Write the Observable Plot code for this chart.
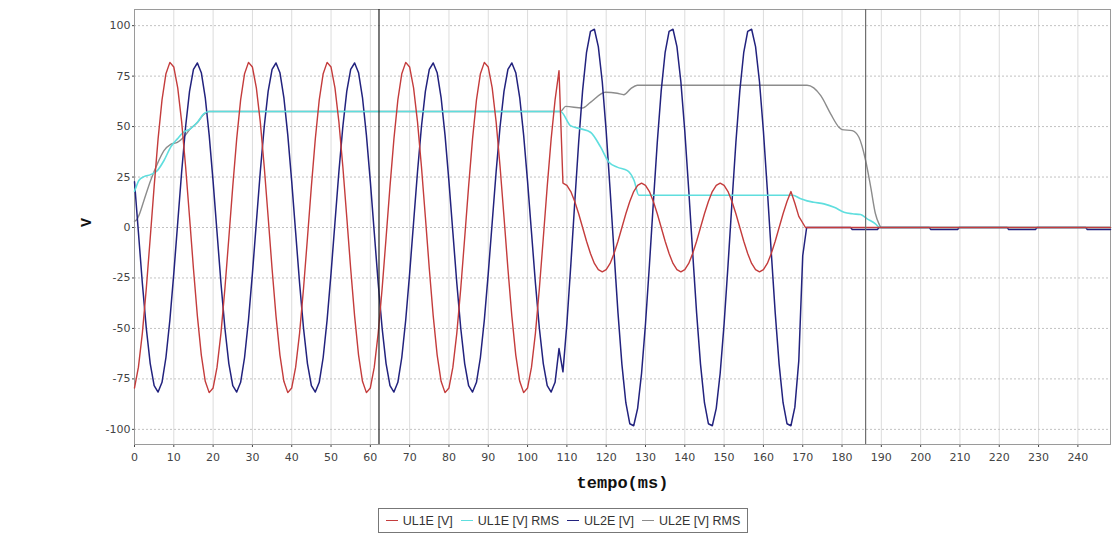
<!DOCTYPE html>
<html><head><meta charset="utf-8">
<script src="https://cdn.jsdelivr.net/npm/d3@7"></script>
<script src="https://cdn.jsdelivr.net/npm/@observablehq/plot@0.6"></script>
<style>
body{margin:0;background:#fff;width:1112px;height:536px;position:relative;overflow:hidden;font-family:"Liberation Sans",Arial,sans-serif}
#chart{position:absolute;left:0;top:0}
#legend{position:absolute;left:378px;top:508px;width:368px;height:23px;border:1px solid #777;display:flex;align-items:center;justify-content:center;gap:8px;font-size:12.5px;color:#333;white-space:nowrap;box-sizing:content-box}
.item{display:flex;align-items:center;gap:5px}
.sw{display:inline-block;width:12px;height:0;border-top:1.6px solid}
</style></head><body>
<div id="chart"></div><div id="legend"></div>
<script>
// Samples every 1 ms, starting at 0 ms (values in V)
const ul1eV = [
-79.5,-69.2,-52.3,-30.2,-5.2,20.4,43.9,63.2,76.2,81.8,79.5,69.2,52.3,30.2,5.2,-20.4,-43.9,-63.2,-76.2,-81.8,
-79.5,-69.2,-52.3,-30.2,-5.2,20.4,43.9,63.2,76.2,81.8,79.5,69.2,52.3,30.2,5.2,-20.4,-43.9,-63.2,-76.2,-81.8,
-79.5,-69.2,-52.3,-30.2,-5.2,20.4,43.9,63.2,76.2,81.8,79.5,69.2,52.3,30.2,5.2,-20.4,-43.9,-63.2,-76.2,-81.8,
-79.5,-69.2,-52.3,-30.2,-5.2,20.4,43.9,63.2,76.2,81.8,79.5,69.2,52.3,30.2,5.2,-20.4,-43.9,-63.2,-76.2,-81.8,
-79.5,-69.2,-52.3,-30.2,-5.2,20.4,43.9,63.2,76.2,81.8,79.5,69.2,52.3,30.2,5.2,-20.4,-43.9,-63.2,-76.2,-81.8,
-79.5,-69.2,-52.3,-30.2,-5.2,20.4,43.9,63.2,77.7,
22.0,20.9,17.8,12.9,6.8,0,-6.8,-12.9,-17.8,-20.9,-22.0,-20.9,-17.8,-12.9,-6.8,0,6.8,12.9,17.8,20.9,
22.0,20.9,17.8,12.9,6.8,0,-6.8,-12.9,-17.8,-20.9,-22.0,-20.9,-17.8,-12.9,-6.8,0,6.8,12.9,17.8,20.9,
22.0,20.9,17.8,12.9,6.8,0,-6.8,-12.9,-17.8,-20.9,-22.0,-20.9,-17.8,-12.9,-6.8,0,6.8,12.9,17.8
];
const ul1eTail = [[168,12],[169,5.5],[170.7,0],[248.3,0]];

const ul2eV = [
22.7,-2.5,-27.6,-49.9,-67.4,-78.3,-81.5,-76.7,-64.4,-45.8,-22.7,2.5,27.6,49.9,67.4,78.3,81.5,76.7,64.4,45.8,
22.7,-2.5,-27.6,-49.9,-67.4,-78.3,-81.5,-76.7,-64.4,-45.8,-22.7,2.5,27.6,49.9,67.4,78.3,81.5,76.7,64.4,45.8,
22.7,-2.5,-27.6,-49.9,-67.4,-78.3,-81.5,-76.7,-64.4,-45.8,-22.7,2.5,27.6,49.9,67.4,78.3,81.5,76.7,64.4,45.8,
22.7,-2.5,-27.6,-49.9,-67.4,-78.3,-81.5,-76.7,-64.4,-45.8,-22.7,2.5,27.6,49.9,67.4,78.3,81.5,76.7,64.4,45.8,
22.7,-2.5,-27.6,-49.9,-67.4,-78.3,-81.5,-76.7,-64.4,-45.8,-22.7,2.5,27.6,49.9,67.4,78.3,81.5,76.7,64.4,45.8,
22.7,-2.5,-27.6,-49.9,-67.4,-78.3,-81.5,-76.7,-60.0,
-71.5,-47.7,-18.6,12.4,42.2,67.8,86.8,97.2,98.2,89.6,72.2,47.7,18.6,-12.4,-42.2,-67.8,-86.8,-97.2,-98.2,-89.6,
-72.2,-47.7,-18.6,12.4,42.2,67.8,86.8,97.2,98.2,89.6,72.2,47.7,18.6,-12.4,-42.2,-67.8,-86.8,-97.2,-98.2,-89.6,
-72.2,-47.7,-18.6,12.4,42.2,67.8,86.8,97.2,98.2,89.6,72.2,47.7,18.6,-12.4,-42.2,-67.8,-86.8,-97.2,-98.2
];
const ul2eTail = [[168,-89],[169,-66],[170,-14],[171,0],[182.2,0],[182.6,-1],[189,-1],[189.4,0],
  [202.2,0],[202.6,-1],[209.4,-1],[209.8,0],[222,0],[222.4,-1],[229.2,-1],[229.6,0],[242,0],[242.4,-1],[248.3,-1]];

// RMS curves: [ms, V] break points
const ul1eRms = [[0,18],[0.5,20.5],[1.1,23.3],[2.4,25.2],[4.1,26.2],[5.8,28.2],[7.5,33.2],[9.2,39.8],[10.9,43.9],
  [12.5,47.2],[14.2,48.9],[16,52.1],[17.6,56.3],[18.9,57.5],[108.4,57.5],[110.9,50.5],[113.5,48.9],[116,47.2],
  [118.6,39.8],[120.7,32.3],[122.8,29.9],[125.4,28.2],[127.1,23.3],[128.3,16],[167.5,16],[169.5,14.2],[171.1,13.2],
  [172.8,12.5],[175.4,11.7],[178,10],[180.5,7.6],[182.6,6.8],[184.7,6.4],[186.4,4.3],[188.5,1.8],[189.6,0],[248.3,0]];
const ul2eRms = [[0,3],[0.7,4.3],[1.1,5.9],[2.4,13.4],[4.1,23.3],[5.8,31.5],[7.5,38.1],[9.2,41.2],[10.9,42.2],
  [12.5,44.7],[14.2,48.9],[16,52],[17.6,56],[18.9,57.5],[108.4,57.5],[109.7,60],[113.9,59.2],[116,62],[119.8,67],
  [122.8,66.5],[124.5,65.8],[126.2,68.7],[127.9,70.5],[171.1,70.5],[172.8,69.2],[174.6,65.3],[177.1,56.3],[179.2,49.7],
  [180,48.5],[182.6,48],[184.3,44.7],[186,33.2],[187.3,20],[188.5,6.8],[189.4,1.8],[190,0],[248.3,0]];

const markers = [62.2, 186];
const xTicks = [0,10,20,30,40,50,60,70,80,90,100,110,120,130,140,150,160,170,180,190,200,210,220,230,240];
const yTicks = [-100,-75,-50,-25,0,25,50,75,100];
const seriesNames = ["UL1E [V]", "UL1E [V] RMS", "UL2E [V]", "UL2E [V] RMS"];
const seriesColors = ["#c43c3c", "#5fdede", "#22227e", "#8c8c8c"];

const ul1e = ul1eV.map((v, i) => [i, v]).concat(ul1eTail);
const ul2e = ul2eV.map((v, i) => [i, v]).concat(ul2eTail);
const X = d => d[0], Y = d => d[1];

const chart = Plot.plot({
  width: 1112, height: 500,
  marginTop: 9, marginBottom: 56, marginLeft: 134, marginRight: 2,
  style: {fontFamily: '"DejaVu Sans", sans-serif', fontSize: "11px", color: "#444", background: "white"},
  x: {domain: [0, 248.3], ticks: xTicks, tickSize: 3, tickPadding: 6, label: null, tickFormat: d => String(d)},
  y: {domain: [-107.5, 108], ticks: yTicks, tickSize: 2, tickPadding: 2, label: null, tickFormat: d => String(d)},
  marks: [
    Plot.ruleX(xTicks, {stroke: "#dcdcdc", strokeWidth: 1}),
    Plot.ruleY(yTicks, {stroke: "#c2c2c2", strokeWidth: 1, strokeDasharray: "2,2"}),
    Plot.frame({stroke: "#9a9a9a"}),
    Plot.line(ul2eRms, {x: X, y: Y, stroke: seriesColors[3], strokeWidth: 1.4, curve: "monotone-x"}),
    Plot.line(ul2e, {x: X, y: Y, stroke: seriesColors[2], strokeWidth: 1.5}),
    Plot.line(ul1eRms, {x: X, y: Y, stroke: seriesColors[1], strokeWidth: 1.6, curve: "monotone-x"}),
    Plot.line(ul1e, {x: X, y: Y, stroke: seriesColors[0], strokeWidth: 1.4}),
    Plot.ruleX([markers[0]], {stroke: "#222", strokeWidth: 1.2}),
    Plot.ruleX([markers[1]], {stroke: "#6e6e6e", strokeWidth: 1.2}),
    Plot.text(["tempo(ms)"], {frameAnchor: "bottom", dy: 43, text: d => d, fontFamily: '"Liberation Mono", monospace', fontWeight: "bold", fontSize: 17, fill: "#111"}),
    Plot.text(["V"], {frameAnchor: "left", dx: -48, rotate: -90, text: d => d, fontFamily: '"Liberation Mono", monospace', fontWeight: "bold", fontSize: 15, fill: "#111"})
  ]
});
document.getElementById("chart").appendChild(chart);

const legend = document.getElementById("legend");
seriesNames.forEach((name, i) => {
  const it = document.createElement("span");
  it.className = "item";
  const sw = document.createElement("span");
  sw.className = "sw";
  sw.style.borderTopColor = seriesColors[i];
  const tx = document.createElement("span");
  tx.textContent = name;
  it.appendChild(sw); it.appendChild(tx);
  legend.appendChild(it);
});
</script>
</body></html>
